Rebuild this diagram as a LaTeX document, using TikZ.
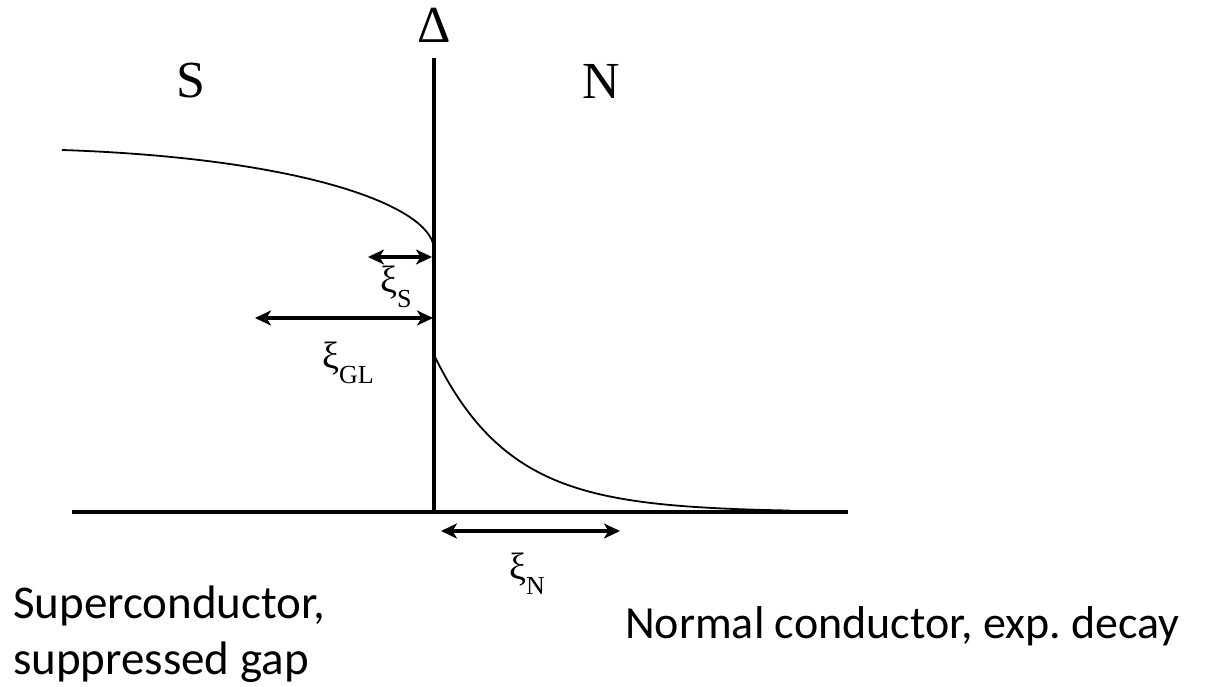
\documentclass[tikz,border=0pt]{standalone}
\usepackage{fontspec}
\setmainfont{Liberation Serif}
\newfontfamily\calibfont{Carlito}
\usetikzlibrary{arrows.meta}
\newcommand{\xisub}[1]{{\fontsize{38}{40}\selectfont ξ}\raisebox{-15pt}{\fontsize{26}{28}\selectfont #1}}

\begin{document}
\begin{tikzpicture}[x=1pt,y=-1pt,
  axis/.style={line width=3.2pt,draw=black},
  prof/.style={line width=1.8pt,draw=black},
  dim/.style={{Stealth[length=16pt,width=15pt,inset=4.5pt]}-{Stealth[length=16pt,width=15pt,inset=4.5pt]},line width=3.2pt},
  side/.style={font=\fontsize{52}{54}\selectfont,inner sep=0pt},
  xil/.style={anchor=base west,inner sep=0pt},
  note/.style={font=\calibfont\fontsize{47}{56}\selectfont,anchor=base west,inner sep=0pt,align=left}]
  \useasboundingbox (0,0) rectangle (1208,687);

  % axes
  \coordinate (orig) at (434,512);
  \coordinate (top) at (434,58);
  \coordinate (axL) at (72,512);
  \coordinate (axR) at (848,512);
  \draw[axis] (axL) -- (axR);
  \draw[axis] (orig) -- (top);

  \node[side] (delta) at (434,25) {Δ};
  \node[side] (sreg) at (191,81) {S};
  \node[side] (nreg) at (601,81) {N};

  % gap profile
  \coordinate (bulk) at (62,150);
  \coordinate (edgeS) at (434,248);
  \draw[prof] (bulk) .. controls (300,158) and (430,205) .. (edgeS);
  \draw[prof] plot[domain=434:790,samples=80] (\x,{512-157*exp(-(\x-434)/76)});

  % lengths
  \coordinate (xsL) at (368,257);
  \coordinate (xsR) at (432,257);
  \coordinate (xgL) at (255,318);
  \coordinate (xgR) at (433,318);
  \coordinate (xnL) at (441,531);
  \coordinate (xnR) at (620,531);
  \draw[dim] (xsL) -- (xsR);
  \draw[dim] (xgL) -- (xgR);
  \draw[dim] (xnL) -- (xnR);
  \node[xil] (xis) at (380,293) {\xisub{S}};
  \node[xil] (xigl) at (322,368) {\xisub{GL}};
  \node[xil] (xin) at (509,579) {\xisub{N}};

  \node[note] (supc) at (13,674) {Superconductor,\\suppressed gap};
  \node[note,font=\calibfont\fontsize{46}{52}\selectfont] (norm) at (625,638) {Normal conductor, exp.\ decay};
\end{tikzpicture}
\end{document}
